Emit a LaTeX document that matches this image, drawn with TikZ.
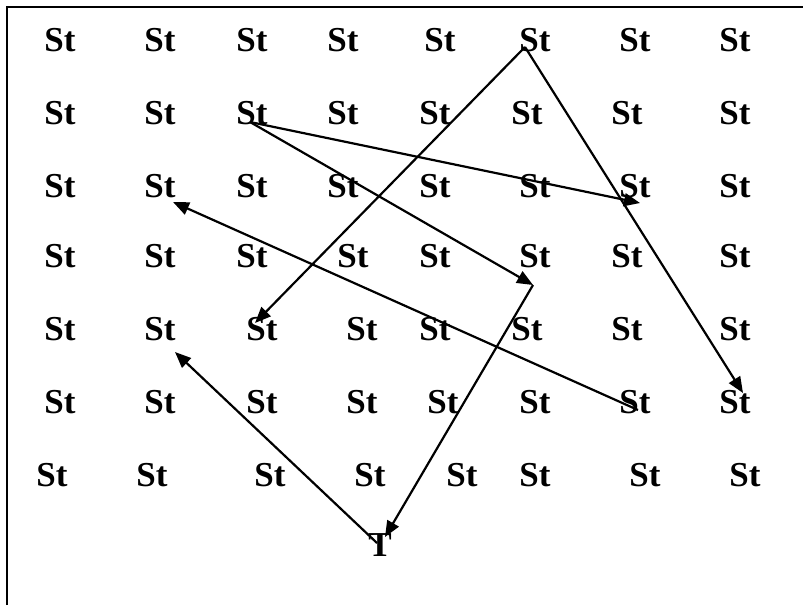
\documentclass[tikz,border=0pt]{standalone}
\usepackage{fontspec}
\setmainfont{Liberation Serif}
\usetikzlibrary{arrows.meta, calc}

\begin{document}
\begin{tikzpicture}[
    x=0.5pt, y=-0.5pt,
    st/.style={inner sep=0pt, font=\fontsize{17.5}{21}\selectfont\bfseries},
    arrow/.style={-{Triangle[length=8pt, width=6.5pt]}, line width=1.1pt},
    frame/.style={line width=1.2pt}
]
\useasboundingbox (0,0) rectangle (803,605);

% --- Frame (left and top edges) ---
\coordinate (fbl) at (7,605);
\coordinate (ftl) at (7,7);
\coordinate (ftr) at (803,7);
\draw[frame] (fbl) -- (ftl) -- (ftr);

% --- Grid of labels ---
\foreach \x [count=\c] in {60,160,252,343,440,535,635,735}
    \node[st] (r1c\c) at (\x,40) {St};
\foreach \x [count=\c] in {60,160,252,343,435,527,627,735}
    \node[st] (r2c\c) at (\x,113) {St};
\foreach \x [count=\c] in {60,160,252,343,435,535,635,735}
    \node[st] (r3c\c) at (\x,186) {St};
\foreach \x [count=\c] in {60,160,252,353,435,535,627,735}
    \node[st] (r4c\c) at (\x,256) {St};
\foreach \x [count=\c] in {60,160,262,362,435,527,627,735}
    \node[st] (r5c\c) at (\x,329) {St};
\foreach \x [count=\c] in {60,160,262,362,443,535,635,735}
    \node[st] (r6c\c) at (\x,402) {St};
\foreach \x [count=\c] in {52,152,270,370,462,535,645,745}
    \node[st] (r7c\c) at (\x,475) {St};

\node[st] (T) at (380,545) {T};

% --- Path points ---
\coordinate (top)  at ([shift={(-10,7)}]r1c6.center);
\coordinate (left) at ([shift={(-2,9)}]r2c3.center);
\coordinate (turn) at ([shift={(-2,29)}]r4c6.center);

% --- Arrows ---
\draw[arrow] (top) -- ([shift={(-7,-6)}]r5c3.center);
\draw[arrow] (top) -- ([shift={(8,-9)}]r6c8.center);
\draw[arrow] (left) -- ([shift={(5,17)}]r3c7.center);
\draw[arrow] (left) -- (turn);
\draw[arrow] (turn) -- ([shift={(5,-8)}]T.center);
\draw[arrow] ([shift={(-3,-2)}]T.center) -- ([shift={(15,23)}]r5c2.center);
\draw[arrow] ([shift={(3,8)}]r6c7.center) -- ([shift={(13,16)}]r3c2.center);

\end{tikzpicture}
\end{document}
